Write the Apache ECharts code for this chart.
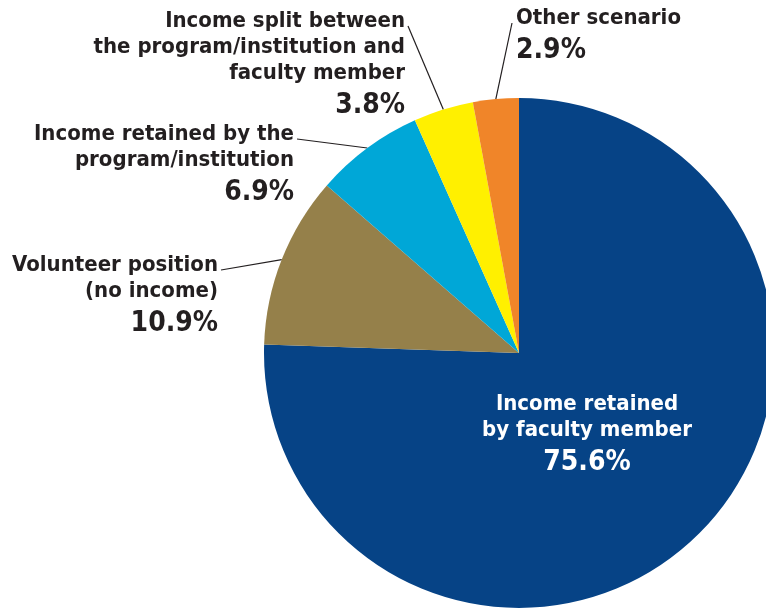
<!DOCTYPE html>
<html>
<head>
<meta charset="utf-8">
<script src="https://cdn.jsdelivr.net/npm/echarts@6/dist/echarts.min.js"></script>
<style>
  html, body { margin: 0; padding: 0; background: #ffffff; }
  #chart { width: 766px; height: 609px; }
</style>
</head>
<body>
<div id="chart"></div>
<script>
// Share of income arrangements, in percent
const categories = [
  'Income retained\nby faculty member',
  'Volunteer position\n(no income)',
  'Income retained by the\nprogram/institution',
  'Income split between\nthe program/institution and\nfaculty member',
  'Other scenario'
];
const shares = [75.6, 10.9, 6.9, 3.8, 2.9];

const palette = ['#064386', '#95804a', '#00a7d7', '#fff000', '#f08529'];
const FONT = '"DejaVu Sans Condensed", "Liberation Sans Narrow", sans-serif';
const INK = '#231f20';

// Where each label block sits: anchor x, top y and text alignment
const labelSpots = [
  { x: 587, y: 391, align: 'center' },
  { x: 218, y: 252, align: 'right' },
  { x: 294, y: 121, align: 'right' },
  { x: 405, y: 8, align: 'right' },
  { x: 516, y: 5, align: 'left' }
];

function richStyles(color) {
  return {
    n: { fontFamily: FONT, fontWeight: 'bold', fontSize: 22, lineHeight: 26, color: color },
    p: { fontFamily: FONT, fontWeight: 'bold', fontSize: 28, lineHeight: 40, color: color }
  };
}

const chart = echarts.init(document.getElementById('chart'), null, { renderer: 'canvas' });

chart.setOption({
  animation: false,
  series: [{
    type: 'pie',
    center: [519, 353],
    radius: 255,
    startAngle: 90,
    clockwise: true,
    avoidLabelOverlap: false,
    silent: true,
    itemStyle: { borderWidth: 0 },
    label: {
      show: true,
      position: 'outside',
      formatter: (p) => `{n|${p.name}}\n{p|${p.value}%}`,
      rich: richStyles(INK)
    },
    labelLine: { show: true, lineStyle: { color: INK, width: 1.2 } },
    labelLayout: (params) => {
      const spot = labelSpots[params.dataIndex];
      const out = { x: spot.x, y: spot.y, align: spot.align, verticalAlign: 'top' };
      if (params.dataIndex > 0 && params.labelLinePoints) {
        const edge = params.labelLinePoints[0];
        const endX = spot.align === 'right' ? spot.x + 3 : spot.x - 4;
        out.labelLinePoints = [[edge[0], edge[1]], [endX, spot.y + 18]];
      }
      return out;
    },
    data: shares.map((v, i) => {
      const item = { name: categories[i], value: v, itemStyle: { color: palette[i] } };
      if (i === 0) {
        item.label = { position: 'inside', rich: richStyles('#ffffff') };
        item.labelLine = { show: false };
      }
      return item;
    })
  }]
});
</script>
</body>
</html>
